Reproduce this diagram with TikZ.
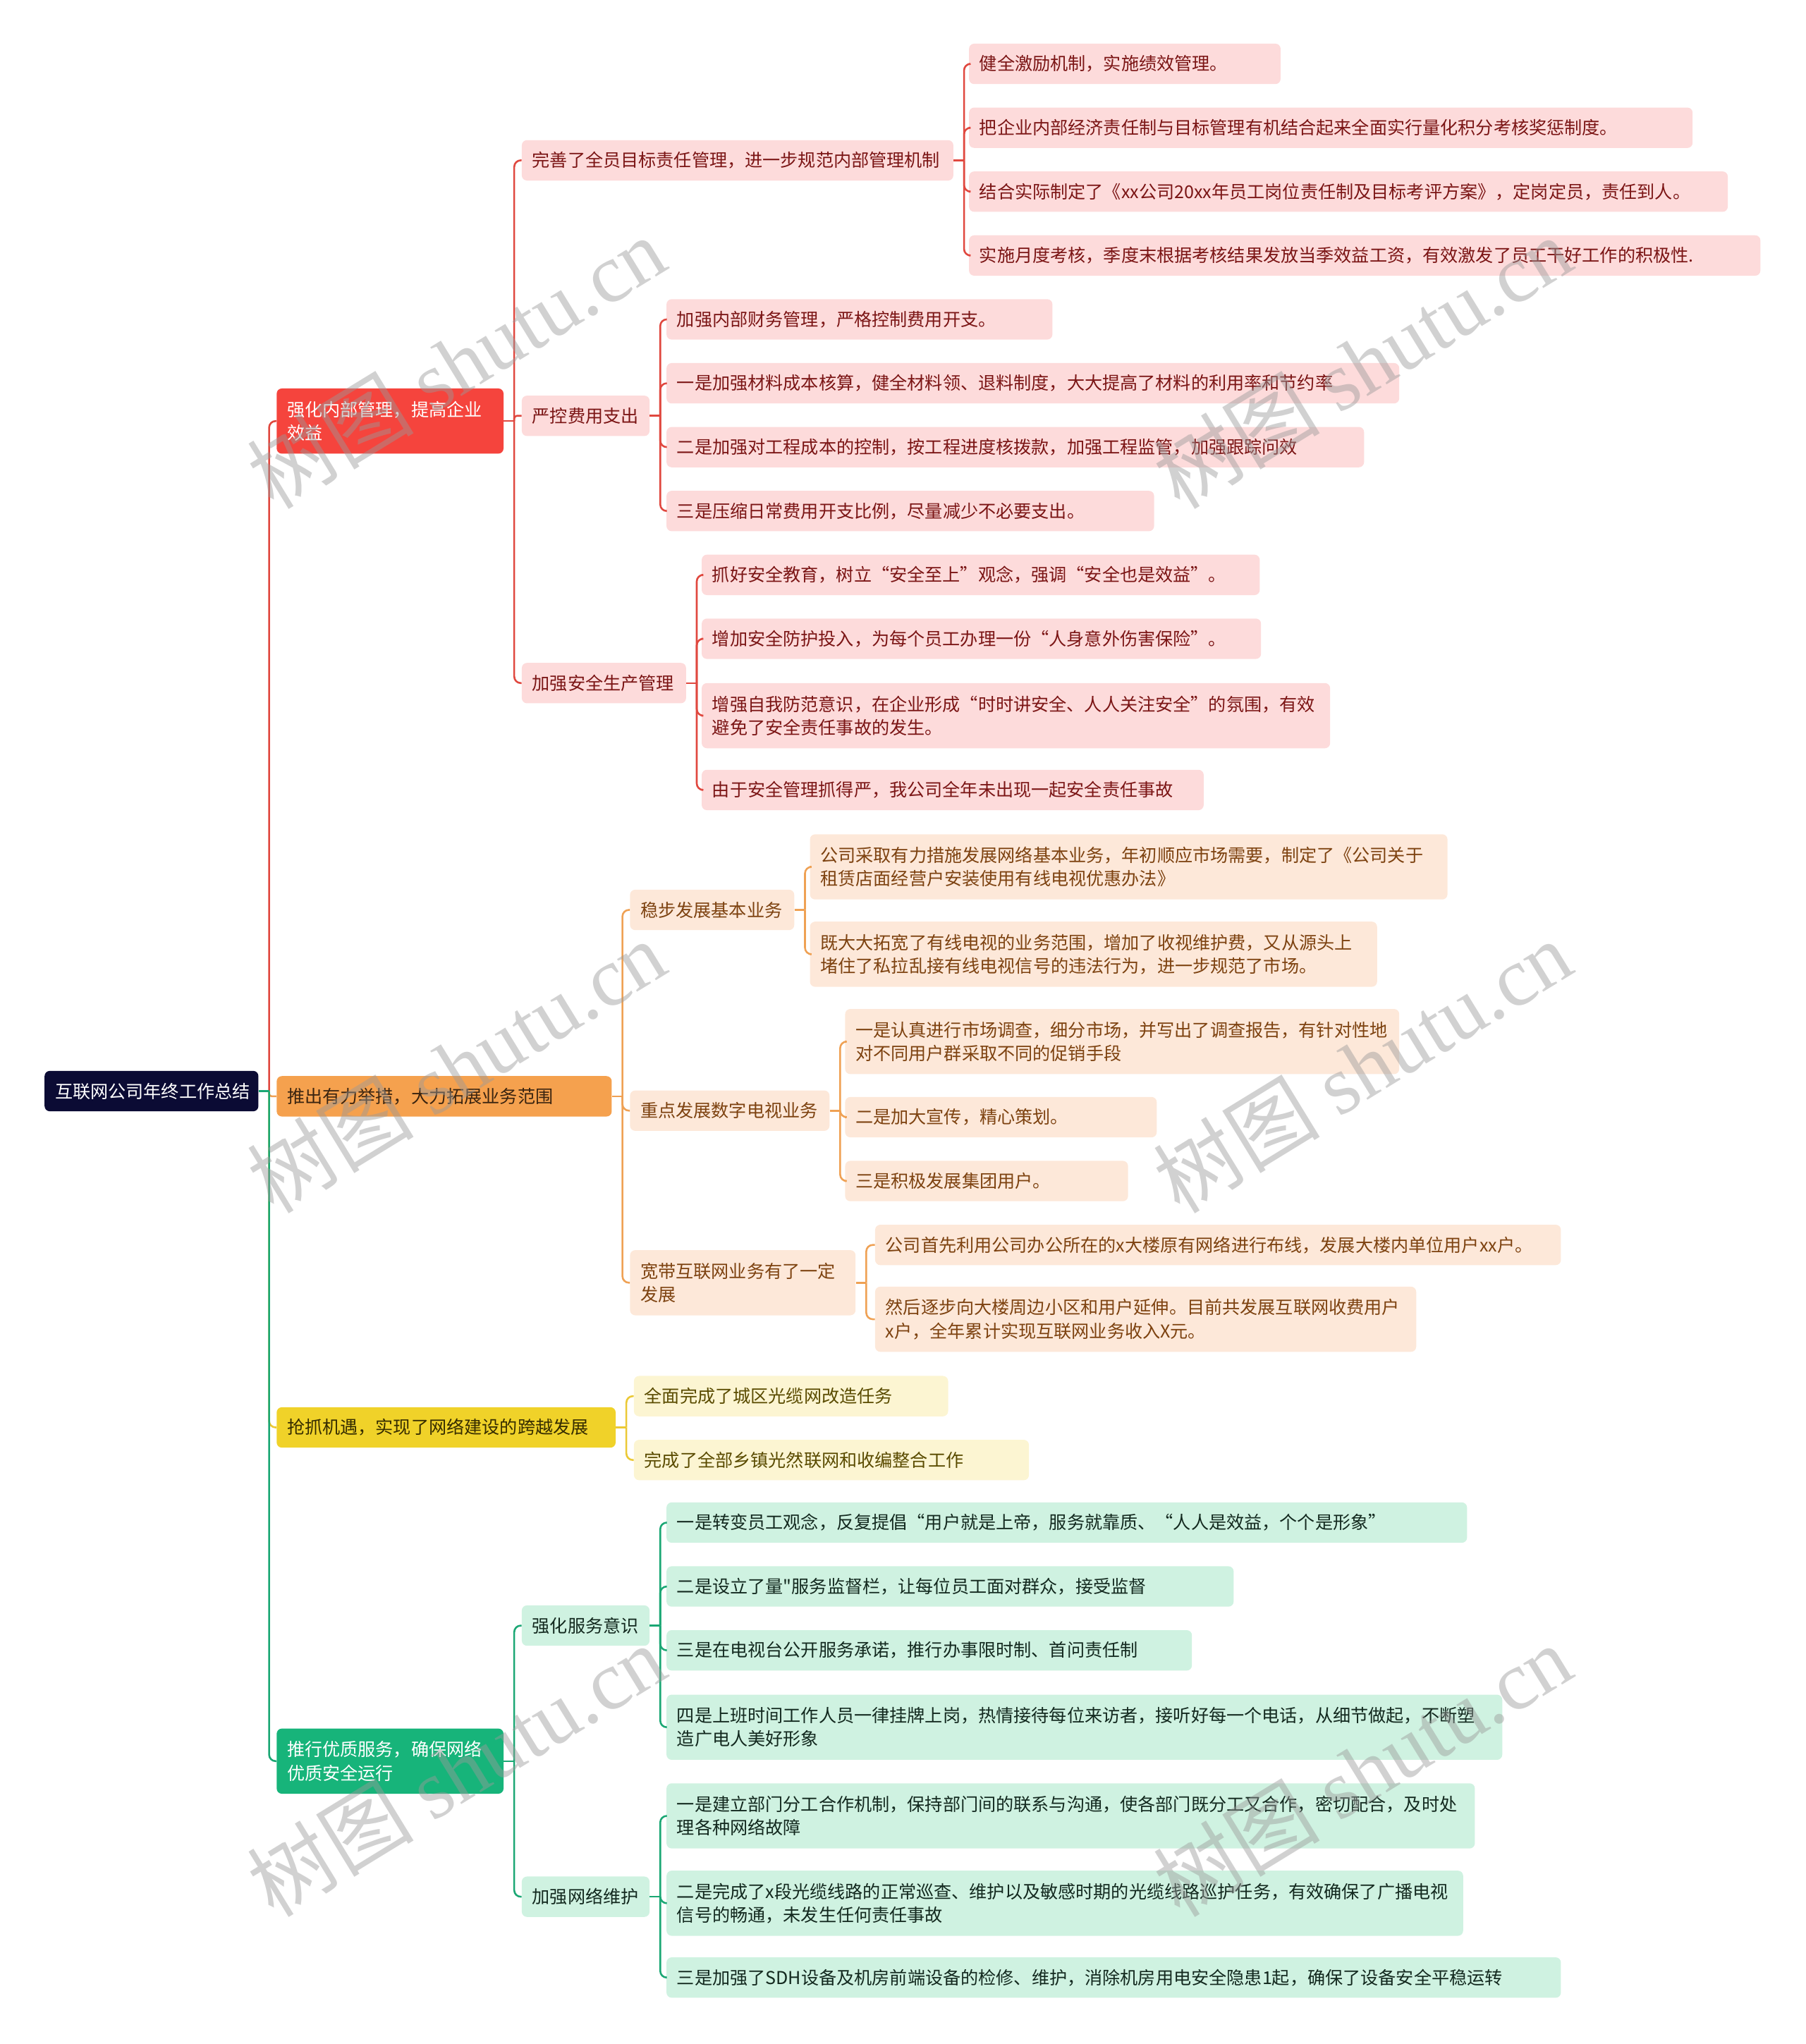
\documentclass[tikz,border=0pt]{standalone}
\usepackage{fontspec}
\setmainfont{Noto Sans CJK SC}
\newfontfamily\wmlat{Liberation Serif}
\newfontfamily\qfont{Noto Sans CJK SC}[Ligatures=TeXOff]
\usetikzlibrary{calc}
\definecolor{rootc}{HTML}{0B0B34}
\definecolor{redc}{HTML}{F5443D}
\definecolor{redln}{HTML}{E0483F}
\definecolor{redlt}{HTML}{FDDBDB}
\definecolor{redtx}{HTML}{7B1515}
\definecolor{orc}{HTML}{F5A14E}
\definecolor{orln}{HTML}{EFA154}
\definecolor{orlt}{HTML}{FDE8D9}
\definecolor{ortx}{HTML}{7D4210}
\definecolor{ortop}{HTML}{3A2410}
\definecolor{yec}{HTML}{F0D229}
\definecolor{yeln}{HTML}{EBC935}
\definecolor{yelt}{HTML}{FCF5D2}
\definecolor{yetx}{HTML}{5A4B00}
\definecolor{yetop}{HTML}{352C00}
\definecolor{grc}{HTML}{17B47A}
\definecolor{grln}{HTML}{1BA774}
\definecolor{grlt}{HTML}{CFF2E1}
\definecolor{grtx}{HTML}{13291F}
\definecolor{wmc}{HTML}{9A9A9A}
\newcommand\fz{\fontsize{13.6}{18}\selectfont}
\newcommand\mybx[7]{%
  \pgfmathsetmacro\tw{#5-16}%
  \node[#2, text width=\tw pt, minimum height=#6pt] (#1) at (#3,#4) {#7};}
\newcommand\mycn[4]{% style, parent, spine coord, child
  \draw[#1, rounded corners=5pt] (#3) |- (#4.west);}
\newcommand\myspine[3]{% style, parent, spine name
  \coordinate (#3) at ($(#2.east)+(8,0)$);
  \draw[#1] (#2.east) -- (#3);}
\tikzset{
  base/.style={anchor=west, inner xsep=8pt, inner ysep=0pt, rounded corners=4pt, align=left, font=\fz},
  rootbox/.style={base, fill=rootc, text=white},
  rtop/.style={base, fill=redc, text=white},
  rbox/.style={base, fill=redlt, text=redtx},
  otop/.style={base, fill=orc, text=ortop},
  obox/.style={base, fill=orlt, text=ortx},
  ytop/.style={base, fill=yec, text=yetop},
  ybox/.style={base, fill=yelt, text=yetx},
  gtop/.style={base, fill=grc, text=white},
  gbox/.style={base, fill=grlt, text=grtx},
  rl/.style={draw=redln, line width=1.4pt},
  ol/.style={draw=orln, line width=1.4pt},
  yl/.style={draw=yeln, line width=1.4pt},
  gl/.style={draw=grln, line width=1.4pt},
  wm/.style={rotate=31.5, text=wmc, opacity=0.45, inner sep=0pt},
}
\begin{document}
\begin{tikzpicture}[x=1pt,y=-1pt]
\useasboundingbox (0,0) rectangle (1385,1568);
% root and level 1
\mybx{root}{rootbox}{34}{837}{164}{31}{互联网公司年终工作总结}
\mybx{R1}{rtop}{212}{323}{174}{50}{强化内部管理，提高企业\\效益}
\mybx{O1}{otop}{212}{841}{257}{31}{推出有力举措，大力拓展业务范围}
\mybx{Y1}{ytop}{212}{1095}{260}{31}{抢抓机遇，实现了网络建设的跨越发展}
\mybx{G1}{gtop}{212}{1351}{174}{50}{推行优质服务，确保网络\\优质安全运行}
% red
\mybx{R2a}{rbox}{400}{123}{331}{31}{完善了全员目标责任管理，进一步规范内部管理机制}
\mybx{R2b}{rbox}{400}{319}{98}{31}{严控费用支出}
\mybx{R2c}{rbox}{400}{524}{126}{31}{加强安全生产管理}
\mybx{R3a1}{rbox}{743}{49}{239}{31}{健全激励机制，实施绩效管理。}
\mybx{R3a2}{rbox}{743}{98}{555}{31}{把企业内部经济责任制与目标管理有机结合起来全面实行量化积分考核奖惩制度。}
\mybx{R3a3}{rbox}{743}{147}{582}{31}{结合实际制定了《xx公司20xx年员工岗位责任制及目标考评方案》，定岗定员，责任到人。}
\mybx{R3a4}{rbox}{743}{196}{607}{31}{实施月度考核，季度末根据考核结果发放当季效益工资，有效激发了员工干好工作的积极性.}
\mybx{R3b1}{rbox}{511}{245}{296}{31}{加强内部财务管理，严格控制费用开支。}
\mybx{R3b2}{rbox}{511}{294}{562}{31}{一是加强材料成本核算，健全材料领、退料制度，大大提高了材料的利用率和节约率}
\mybx{R3b3}{rbox}{511}{343}{535}{31}{二是加强对工程成本的控制，按工程进度核拨款，加强工程监管，加强跟踪问效}
\mybx{R3b4}{rbox}{511}{392}{374}{31}{三是压缩日常费用开支比例，尽量减少不必要支出。}
\mybx{R3c1}{rbox}{538}{441}{428}{31}{抓好安全教育，树立“安全至上”观念，强调“安全也是效益”。}
\mybx{R3c2}{rbox}{538}{490}{429}{31}{增加安全防护投入，为每个员工办理一份“人身意外伤害保险”。}
\mybx{R3c3}{rbox}{538}{549}{482}{50}{增强自我防范意识，在企业形成“时时讲安全、人人关注安全”的氛围，有效\\避免了安全责任事故的发生。}
\mybx{R3c4}{rbox}{538}{606}{385}{31}{由于安全管理抓得严，我公司全年未出现一起安全责任事故}
% orange
\mybx{O2a}{obox}{483}{698}{126}{31}{稳步发展基本业务}
\mybx{O2b}{obox}{483}{852}{153}{31}{重点发展数字电视业务}
\mybx{O2c}{obox}{483}{984}{173}{50}{宽带互联网业务有了一定\\发展}
\mybx{O3a1}{obox}{621}{665}{489}{50}{公司采取有力措施发展网络基本业务，年初顺应市场需要，制定了《公司关于\\租赁店面经营户安装使用有线电视优惠办法》}
\mybx{O3a2}{obox}{621}{732}{435}{50}{既大大拓宽了有线电视的业务范围，增加了收视维护费，又从源头上\\堵住了私拉乱接有线电视信号的违法行为，进一步规范了市场。}
\mybx{O3b1}{obox}{648}{799}{425}{50}{一是认真进行市场调查，细分市场，并写出了调查报告，有针对性地\\对不同用户群采取不同的促销手段}
\mybx{O3b2}{obox}{648}{857}{239}{31}{二是加大宣传，精心策划。}
\mybx{O3b3}{obox}{648}{906}{217}{31}{三是积极发展集团用户。}
\mybx{O3c1}{obox}{671}{955}{526}{31}{公司首先利用公司办公所在的x大楼原有网络进行布线，发展大楼内单位用户xx户。}
\mybx{O3c2}{obox}{671}{1012}{415}{50}{然后逐步向大楼周边小区和用户延伸。目前共发展互联网收费用户\\x户，全年累计实现互联网业务收入X元。}
% yellow
\mybx{Y2a}{ybox}{486}{1071}{241}{31}{全面完成了城区光缆网改造任务}
\mybx{Y2b}{ybox}{486}{1120}{303}{31}{完成了全部乡镇光然联网和收编整合工作}
% green
\mybx{G2a}{gbox}{400}{1247}{98}{31}{强化服务意识}
\mybx{G2b}{gbox}{400}{1455}{98}{31}{加强网络维护}
\mybx{G3a1}{gbox}{511}{1168}{614}{31}{一是转变员工观念，反复提倡“用户就是上帝，服务就靠质、“人人是效益，个个是形象”}
\mybx{G3a2}{gbox}{511}{1217}{435}{31}{二是设立了量{\qfont "}服务监督栏，让每位员工面对群众，接受监督}
\mybx{G3a3}{gbox}{511}{1266}{403}{31}{三是在电视台公开服务承诺，推行办事限时制、首问责任制}
\mybx{G3a4}{gbox}{511}{1325}{641}{50}{四是上班时间工作人员一律挂牌上岗，热情接待每位来访者，接听好每一个电话，从细节做起，不断塑\\造广电人美好形象}
\mybx{G3b1}{gbox}{511}{1393}{620}{50}{一是建立部门分工合作机制，保持部门间的联系与沟通，使各部门既分工又合作，密切配合，及时处\\理各种网络故障}
\mybx{G3b2}{gbox}{511}{1460}{611}{50}{二是完成了x段光缆线路的正常巡查、维护以及敏感时期的光缆线路巡护任务，有效确保了广播电视\\信号的畅通，未发生任何责任事故}
\mybx{G3b3}{gbox}{511}{1517}{686}{31}{三是加强了SDH设备及机房前端设备的检修、维护，消除机房用电安全隐患1起，确保了设备安全平稳运转}
% connectors: root
\coordinate (s0) at ($(root.east)+(8,0)$);
\draw[rl] (root.east) -- (s0);
\draw[rl, rounded corners=5pt] (s0) |- (R1.west);
\draw[ol, rounded corners=2pt] (s0) |- (O1.west);
\draw[yl, rounded corners=5pt] (s0) |- (Y1.west);
\draw[gl] (root.east) -- (s0);
\draw[gl, rounded corners=5pt] (s0) |- (G1.west);
% red
\myspine{rl}{R1}{sR1}
\mycn{rl}{R1}{sR1}{R2a}
\draw[rl, rounded corners=2pt] (sR1) |- (R2b.west);
\mycn{rl}{R1}{sR1}{R2c}
\myspine{rl}{R2a}{sR2a}
\mycn{rl}{R2a}{sR2a}{R3a1}
\mycn{rl}{R2a}{sR2a}{R3a2}
\mycn{rl}{R2a}{sR2a}{R3a3}
\mycn{rl}{R2a}{sR2a}{R3a4}
\myspine{rl}{R2b}{sR2b}
\mycn{rl}{R2b}{sR2b}{R3b1}
\mycn{rl}{R2b}{sR2b}{R3b2}
\mycn{rl}{R2b}{sR2b}{R3b3}
\mycn{rl}{R2b}{sR2b}{R3b4}
\myspine{rl}{R2c}{sR2c}
\mycn{rl}{R2c}{sR2c}{R3c1}
\mycn{rl}{R2c}{sR2c}{R3c2}
\mycn{rl}{R2c}{sR2c}{R3c3}
\mycn{rl}{R2c}{sR2c}{R3c4}
% orange
\myspine{ol}{O1}{sO1}
\mycn{ol}{O1}{sO1}{O2a}
\mycn{ol}{O1}{sO1}{O2b}
\mycn{ol}{O1}{sO1}{O2c}
\myspine{ol}{O2a}{sO2a}
\mycn{ol}{O2a}{sO2a}{O3a1}
\mycn{ol}{O2a}{sO2a}{O3a2}
\myspine{ol}{O2b}{sO2b}
\mycn{ol}{O2b}{sO2b}{O3b1}
\mycn{ol}{O2b}{sO2b}{O3b2}
\mycn{ol}{O2b}{sO2b}{O3b3}
\myspine{ol}{O2c}{sO2c}
\mycn{ol}{O2c}{sO2c}{O3c1}
\mycn{ol}{O2c}{sO2c}{O3c2}
% yellow
\myspine{yl}{Y1}{sY1}
\mycn{yl}{Y1}{sY1}{Y2a}
\mycn{yl}{Y1}{sY1}{Y2b}
% green
\myspine{gl}{G1}{sG1}
\mycn{gl}{G1}{sG1}{G2a}
\mycn{gl}{G1}{sG1}{G2b}
\myspine{gl}{G2a}{sG2a}
\mycn{gl}{G2a}{sG2a}{G3a1}
\mycn{gl}{G2a}{sG2a}{G3a2}
\mycn{gl}{G2a}{sG2a}{G3a3}
\mycn{gl}{G2a}{sG2a}{G3a4}
\myspine{gl}{G2b}{sG2b}
\mycn{gl}{G2b}{sG2b}{G3b1}
\mycn{gl}{G2b}{sG2b}{G3b2}
\mycn{gl}{G2b}{sG2b}{G3b3}
% watermarks
\foreach \wx/\wy [count=\i] in {350/278,1045/278,350/818,1045/818,350/1358,1045/1358}
  \node[wm] (wm\i) at (\wx,\wy) {\fontsize{64}{64}\selectfont 树图 {\wmlat shutu.cn}};
\end{tikzpicture}
\end{document}
